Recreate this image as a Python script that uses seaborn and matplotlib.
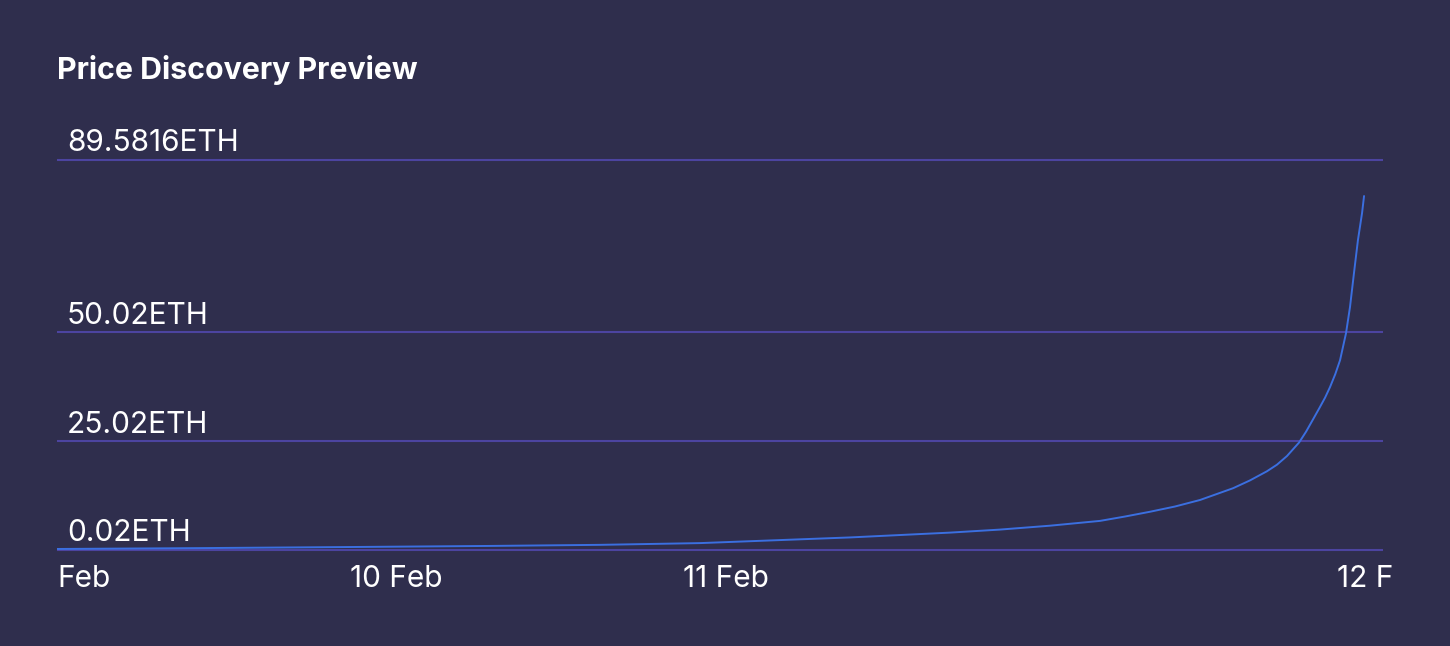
import matplotlib
matplotlib.use('Agg')
import matplotlib.pyplot as plt
import matplotlib.transforms as mtransforms
import seaborn as sns
import pandas as pd

# --- Data ---
# x: share of the sale period elapsed (%), y: price in ETH
progress = [0.0, 10.8, 22.1, 32.7, 41.0, 48.5, 59.8, 67.3, 71.1, 74.9, 78.66,
            80.54, 82.43, 84.31, 86.20, 88.69, 89.97, 91.25, 92.0, 92.76, 93.67,
            94.2, 94.72, 95.2, 95.63, 96.00, 96.4, 96.76, 97.21, 97.51, 97.81,
            98.11, 98.42, 98.57]
price = [0.25, 0.45, 0.7, 0.95, 1.2, 1.6, 2.9, 4.0, 4.7, 5.6, 6.7,
         7.7, 8.8, 10.0, 11.5, 14.2, 16.0, 18.1, 19.6, 21.6, 24.7,
         27.2, 30.0, 32.6, 35.0, 37.4, 40.4, 43.6, 49.8, 55.8, 63.6,
         71.2, 77.4, 81.3]

y_ticks = [0.02, 25.02, 50.02, 89.5816]
y_labels = ['0.02ETH', '25.02ETH', '50.02ETH', '89.5816ETH']
x_ticks = [0.0, 22.1, 47.2, 96.5]
x_labels = ['Feb', '10 Feb', '11 Feb', '12 F']

# --- Style ---
BG = '#2f2e4d'
GRID = '#4c44a0'
LINE = '#3b6fe0'

sns.set_theme(style='dark', rc={'axes.facecolor': BG, 'figure.facecolor': BG})
plt.rcParams['font.family'] = ['Inter', 'DejaVu Sans']

fig = plt.figure(figsize=(14.5, 6.46), dpi=100)
ax = fig.add_axes([0.0393, 0.1419, 0.9145, 0.6172])

df = pd.DataFrame({'progress': progress, 'price': price})
sns.lineplot(data=df, x='progress', y='price', ax=ax, color=LINE, linewidth=1.4)

ax.set_xlim(0, 100)
ax.set_ylim(0.02 - 1, 89.5816 + 1)

for v in y_ticks:
    ax.axhline(v, color=GRID, linewidth=1.5, zorder=0)

# value labels sit just above their grid line, on the left
trans = mtransforms.blended_transform_factory(ax.transAxes, ax.transData)
for v, lab in zip(y_ticks, y_labels):
    ax.text(0.0075, v + 0.6, lab, transform=trans, color='white', fontsize=21.5,
            ha='left', va='bottom')
ax.set_yticks([])

ax.set_xticks(x_ticks)
ax.set_xticklabels(x_labels, ha='left', color='white', fontsize=21.5)
ax.tick_params(axis='x', length=0, pad=8)

ax.set_xlabel('')
ax.set_ylabel('')
for s in ax.spines.values():
    s.set_visible(False)

fig.text(0.0393, 0.892, 'Price Discovery Preview', color='white',
         fontsize=21.8, fontweight='bold', ha='left', va='center')

fig.savefig('out.png', dpi=100, facecolor=BG)
